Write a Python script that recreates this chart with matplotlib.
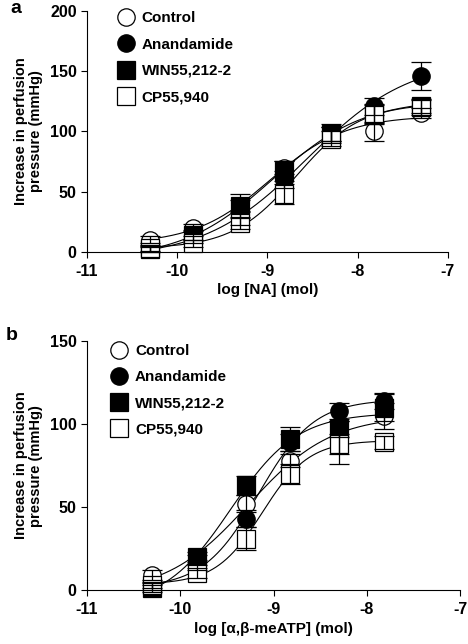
import numpy as np
import matplotlib
matplotlib.use("Agg")
import matplotlib.pyplot as plt

plt.rcParams['font.family'] = ['Liberation Sans', 'DejaVu Sans']
plt.rcParams['font.weight'] = 'bold'
plt.rcParams['axes.unicode_minus'] = False

# panel a: NA
xa = [-10.3, -9.82, -9.3, -8.82, -8.3, -7.82, -7.3]
a_control = [10, 20, 38, 70, 98, 100, 115]
a_control_err = [3, 3, 5, 5, 6, 8, 4]
a_anand = [3, 10, 28, 60, 98, 121, 146]
a_anand_err = [3, 3, 6, 7, 6, 7, 12]
a_win = [2, 14, 38, 67, 98, 115, 121]
a_win_err = [2, 4, 10, 8, 8, 8, 6]
a_cp = [3, 7, 24, 48, 94, 114, 120]
a_cp_err = [2, 3, 5, 8, 6, 8, 6]

# panel b: alpha,beta-meATP
xb = [-10.3, -9.82, -9.3, -8.82, -8.3, -7.82]
b_control = [9, 18, 52, 78, 89, 105]
b_control_err = [3, 3, 5, 4, 13, 8]
b_anand = [2, 15, 43, 89, 108, 114]
b_anand_err = [2, 3, 5, 5, 5, 5]
b_win = [1, 20, 63, 91, 97, 110]
b_win_err = [2, 3, 6, 7, 5, 8]
b_cp = [3, 10, 31, 70, 88, 89]
b_cp_err = [2, 3, 7, 6, 6, 4]

labels = ["Control", "Anandamide", "WIN55,212-2", "CP55,940"]
styles = [("o", "white"), ("o", "black"), ("s", "black"), ("s", "white")]


def fit_curve(x, y):
    # 4-parameter logistic, grid over EC50/hill, linear solve for bottom/top
    x = np.asarray(x, float)
    y = np.asarray(y, float)
    best = None
    for ec in np.arange(-10.5, -7.0, 0.01):
        for n in np.arange(0.4, 3.0, 0.02):
            f = 1.0 / (1.0 + 10 ** ((ec - x) * n))
            A = np.column_stack([1 - f, f])
            coef, res, _, _ = np.linalg.lstsq(A, y, rcond=None)
            sse = np.sum((A @ coef - y) ** 2)
            if best is None or sse < best[0]:
                best = (sse, ec, n, coef)
    _, ec, n, (b, t) = best
    xs = np.linspace(x[0], x[-1], 200)
    return xs, b + (t - b) / (1.0 + 10 ** ((ec - xs) * n))


def panel(ax, x, series, errs, ymax, xlabel, letter, letter_xy, leg_xy):
    for ys in series:
        xs, ys_fit = fit_curve(x, ys)
        ax.plot(xs, ys_fit, color="black", lw=0.8, zorder=2)
    for (ys, es, lab, (m, fc)) in zip(series, errs, labels, styles):
        ax.plot(x, ys, m, ms=12.5, mfc=fc, mec="black", mew=0.9,
                label=lab, zorder=3, clip_on=False)
        ax.errorbar(x, ys, yerr=es, fmt="none", ecolor="black",
                    elinewidth=0.9, capsize=7.5, capthick=0.9, zorder=4,
                    clip_on=False)
    ax.set_xlim(-11, -7)
    ax.set_ylim(0, ymax)
    ax.set_xticks([-11, -10, -9, -8, -7])
    ax.set_yticks(np.arange(0, ymax + 1, 50))
    ax.spines['top'].set_visible(False)
    ax.spines['right'].set_visible(False)
    ax.tick_params(direction="out", length=4, width=0.8, labelsize=11.5)
    ax.tick_params(axis="x", pad=5)
    for t in ax.get_xticklabels() + ax.get_yticklabels():
        t.set_fontweight("bold")
    ax.set_xlabel(xlabel, fontsize=11, fontweight="bold", labelpad=3)
    ax.set_ylabel("Increase in perfusion\npressure (mmHg)", fontsize=10.5,
                  fontweight="bold", labelpad=5, linespacing=1.05)
    ax.legend(loc="upper left", bbox_to_anchor=leg_xy, frameon=False,
              handlelength=1.0, handletextpad=0.55, labelspacing=0.8,
              prop={"weight": "bold", "size": 11})
    ax.figure.text(letter_xy[0], letter_xy[1], letter, fontsize=14,
                   fontweight="bold", ha="left", va="top")


fig = plt.figure(figsize=(4.68, 6.44), dpi=100)
ax1 = fig.add_axes([0.186, 0.609, 0.771, 0.374])
ax2 = fig.add_axes([0.186, 0.084, 0.797, 0.386])

panel(ax1, xa, [a_control, a_anand, a_win, a_cp],
      [a_control_err, a_anand_err, a_win_err, a_cp_err],
      200, "log [NA] (mol)", "a", (0.022, 1.0), (0.048, 1.055))
panel(ax2, xb, [b_control, b_anand, b_win, b_cp],
      [b_control_err, b_anand_err, b_win_err, b_cp_err],
      150, "log [\u03b1,\u03b2-meATP] (mol)", "b", (0.012, 0.492),
      (0.028, 1.045))

fig.savefig("out.png", dpi=100)
